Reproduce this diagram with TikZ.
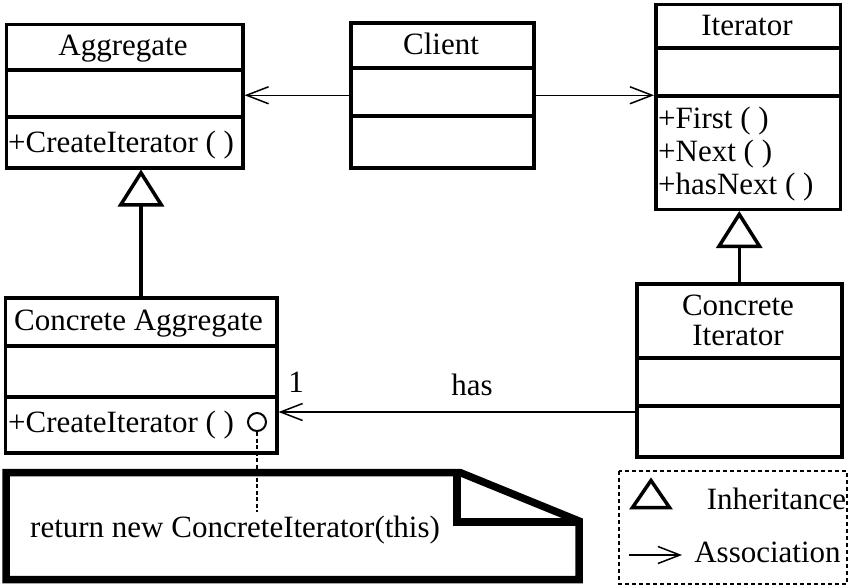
\documentclass[tikz,border=0pt]{standalone}
\usepackage{fontspec}
\setmainfont{Liberation Serif}
\usetikzlibrary{arrows.meta,calc}
\tikzset{
  boxline/.style={line width=3.5pt},
  cls/.style={draw, boxline, inner sep=0pt, anchor=north west},
  assoc/.style={line width=1.5pt,-{Straight Barb[length=22pt,width=17pt,line width=1.5pt]}},
  inherit/.style={line width=3.5pt,-{Triangle[open,length=37pt,width=46pt,line width=3.5pt]}},
  lbl/.style={font=\fontsize{31}{34}\selectfont, inner sep=0pt},
}
\begin{document}
\begin{tikzpicture}[x=1pt,y=-1pt]
\useasboundingbox (0,0) rectangle (850,587);
% classes
\node[cls, minimum width=236.5pt, minimum height=143.5pt] (agg) at (4.5,22.5) {};
\draw[boxline] (agg.west |- 0,70) -- (agg.east |- 0,70);
\draw[boxline] (agg.west |- 0,117) -- (agg.east |- 0,117);
\node[cls, minimum width=183pt, minimum height=145pt] (cli) at (349,21) {};
\draw[boxline] (cli.west |- 0,68) -- (cli.east |- 0,68);
\draw[boxline] (cli.west |- 0,116) -- (cli.east |- 0,116);
\node[cls, minimum width=184.5pt, minimum height=205pt] (it) at (654,2.5) {};
\draw[boxline] (it.west |- 0,48) -- (it.east |- 0,48);
\draw[boxline] (it.west |- 0,96) -- (it.east |- 0,96);
\node[cls, minimum width=271.5pt, minimum height=155pt] (ca) at (3.5,296) {};
\draw[boxline] (ca.west |- 0,346) -- (ca.east |- 0,346);
\draw[boxline] (ca.west |- 0,397) -- (ca.east |- 0,397);
\node[cls, minimum width=205pt, minimum height=173pt] (ci) at (635,282) {};
\draw[boxline] (ci.west |- 0,358) -- (ci.east |- 0,358);
\draw[boxline] (ci.west |- 0,406) -- (ci.east |- 0,406);
% texts
\node[lbl, anchor=base] (taggr) at (123,55) {Aggregate};
\node[lbl, anchor=base west] (taggm) at (8,152) {+CreateIterator ( )};
\node[lbl, anchor=base] (tcli) at (441,54) {Client};
\node[lbl, anchor=base] (tit) at (747,35) {Iterator};
\node[lbl, anchor=base west] (tit1) at (658,128) {+First ( )};
\node[lbl, anchor=base west] (tit2) at (658,161) {+Next ( )};
\node[lbl, anchor=base west] (tit3) at (658,194) {+hasNext ( )};
\node[lbl, anchor=base west] (tca) at (14,330) {Concrete Aggregate};
\node[lbl, anchor=base west] (tcam) at (8,432) {+CreateIterator ( )};
\node[lbl, anchor=base] (tci1) at (738,315) {Concrete};
\node[lbl, anchor=base] (tci2) at (738,345) {Iterator};
% connectors
\draw[assoc] (cli.west) -- (agg.east |- cli.west);
\draw[assoc] (cli.east) -- (it.west |- cli.east);
\draw[assoc] (ci.west |- 0,412) -- (ca.east |- 0,412);
\node[lbl, anchor=base] (thas) at (472,395) {has};
\node[lbl, anchor=base] (tone) at (296,392) {1};
\draw[inherit] (ca.north) -- (ca.north |- agg.south);
\draw[inherit] (ci.north) -- (ci.north |- it.south);
% note
\node[draw, circle, line width=2pt, minimum size=18pt, inner sep=0pt] (dot) at (257,422) {};
\draw[line width=7.5pt, line join=miter] (6,472.5) -- (460,472.5) -- (579,521) -- (579,579.5) -- (6,579.5) -- cycle;
\draw[line width=7.5pt, line join=miter] (457,472.5) -- (457,522) -- (579,522);
\node[lbl, anchor=base west] (tnote) at (30,537) {return new ConcreteIterator(this)};
\coordinate (noteend) at (257,512);
\draw[line width=1.5pt, dash pattern=on 4pt off 2.5pt] (dot.south) -- (noteend);
% legend
\draw[line width=1.5pt, dash pattern=on 4pt off 3pt] (619,471) rectangle (847,584);
\draw[line width=3.5pt, line join=miter] (651,480.5) -- (669.5,507.5) -- (632.5,507.5) -- cycle;
\node[lbl, anchor=base] (tinh) at (776.5,509) {Inheritance};
\coordinate (la1) at (629,555);
\coordinate (la2) at (682,555);
\draw[assoc] (la1) -- (la2);
\node[lbl, anchor=base] (tasc) at (767.5,562) {Association};
\end{tikzpicture}
\end{document}
